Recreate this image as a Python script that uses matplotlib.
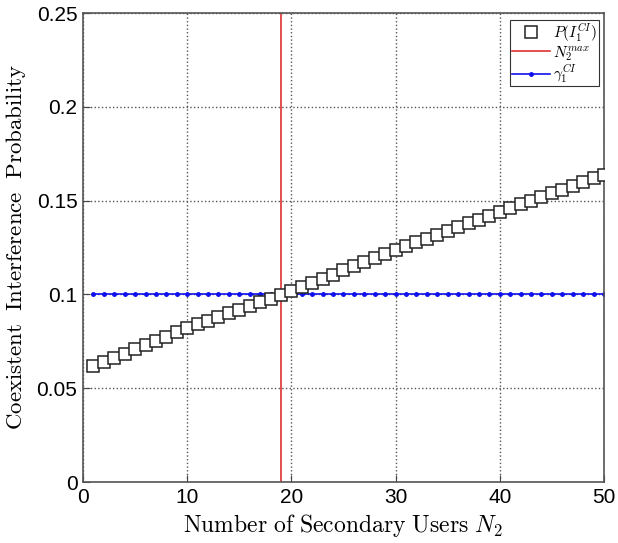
import numpy as np
import matplotlib
matplotlib.use('Agg')
import matplotlib.pyplot as plt

plt.rcParams['mathtext.fontset'] = 'cm'
plt.rcParams['font.family'] = ['Liberation Sans', 'DejaVu Sans']

# DATA
n2 = np.arange(1, 51)
p_ci = [0.0618, 0.0641, 0.0663, 0.0685, 0.0708, 0.0730, 0.0753, 0.0775, 0.0798, 0.0820,
        0.0840, 0.0860, 0.0880, 0.0900, 0.0919, 0.0939, 0.0958, 0.0978, 0.0997, 0.1019,
        0.1041, 0.1062, 0.1084, 0.1106, 0.1128, 0.1150, 0.1172, 0.1193, 0.1215, 0.1237,
        0.1257, 0.1278, 0.1298, 0.1318, 0.1339, 0.1359, 0.1379, 0.1399, 0.1420, 0.1440,
        0.1460, 0.1480, 0.1500, 0.1519, 0.1539, 0.1559, 0.1579, 0.1599, 0.1618, 0.1638]
gamma = [0.1] * 50
n2_max = 19

fig = plt.figure(figsize=(6.18, 5.43), dpi=100)
ax = fig.add_axes([0.1343, 0.1123, 0.843, 0.8637])

ax.plot(n2, p_ci, 's', mfc='white', mec='#222222', ms=8, mew=1.1,
        label=r'$P(I_1^{CI})$', zorder=3)
ax.axvline(n2_max, color='#e03030', lw=1.2, label=r'$N_2^{max}$', zorder=2)
ax.plot(n2, gamma, '.-', color='#1010ee', ms=5, lw=1.2, label=r'$\gamma_1^{CI}$', zorder=2)

ax.set_xlim(0, 50)
ax.set_ylim(0, 0.25)
ax.set_xticks([0, 10, 20, 30, 40, 50])
ax.set_yticks([0, 0.05, 0.1, 0.15, 0.2, 0.25])
ax.set_yticklabels(['0', '0.05', '0.1', '0.15', '0.2', '0.25'])
ax.grid(True, ls=':', color='#555555', lw=1.0)
ax.tick_params(direction='in', labelsize=15, length=5, color='#444444', pad=4)
for s in ax.spines.values():
    s.set_color('#555555')
    s.set_linewidth(1.2)

ax.set_xlabel(r'$\mathrm{Number\ of\ Secondary\ Users}\ N_2$', fontsize=17, labelpad=4)
ax.set_ylabel(r'$\mathrm{Coexistent\ \ Interference\ \ Probability}$', fontsize=16.5, labelpad=6)

leg = ax.legend(loc='upper right', fontsize=11, fancybox=False, edgecolor='black',
                handlelength=2.5, handletextpad=0.2, borderpad=0.1, labelspacing=0.0,
                borderaxespad=0, bbox_to_anchor=(0.99, 0.985))
leg.get_frame().set_linewidth(0.8)

fig.savefig('out.png', dpi=100)
